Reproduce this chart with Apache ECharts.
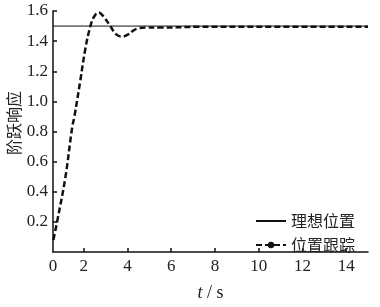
<!DOCTYPE html>
<html><head><meta charset="utf-8">
<script src="https://cdn.jsdelivr.net/npm/echarts@6/dist/echarts.min.js"></script>
<style>html,body{margin:0;padding:0;background:#fff}#c{width:380px;height:307px}</style>
</head><body><div id="c"></div>
<script>
const seriesNames = ['理想位置', '位置跟踪'];
const idealT = [0.6, 15];
const idealY = [1.5, 1.5];
const trackT = [0.62, 0.66, 0.80, 1.16, 1.48, 1.58, 1.85, 2.08, 2.31, 2.49, 2.69, 2.90, 3.22, 3.49, 3.77, 4.04, 4.27, 4.50, 4.82, 5.50, 7.30, 10.0, 15.0];
const trackY = [0.08, 0.11, 0.21, 0.49, 0.83, 0.90, 1.14, 1.35, 1.50, 1.565, 1.59, 1.565, 1.50, 1.445, 1.43, 1.445, 1.47, 1.485, 1.49, 1.49, 1.495, 1.495, 1.495];
const xTickValues = [2, 4, 6, 8, 10, 12, 14];
const xLabelValues = [0.6, 2, 4, 6, 8, 10, 12, 14];
const xLabelTexts = ['0', '2', '4', '6', '8', '10', '12', '14'];
const yAxisTitle = '阶跃响应';

const serif = '"Liberation Serif","Times New Roman",serif';
const cjk = '"Noto Sans CJK SC",sans-serif';
const chart = echarts.init(document.getElementById('c'));
chart.setOption({
  animation: false,
  backgroundColor: '#fff',
  grid: {left: 53, right: 12, top: 11, bottom: 49, containLabel: false},
  legend: {
    orient: 'vertical', right: 20, top: 208, itemWidth: 30, itemHeight: 8, itemGap: 8,
    textStyle: {fontFamily: cjk, fontSize: 16, color: '#222'},
    data: [
      {name: seriesNames[0], itemStyle: {opacity: 0}},
      {name: seriesNames[1]}
    ]
  },
  xAxis: {
    type: 'value', min: 0.6, max: 15,
    name: '{i|t} / s', nameLocation: 'middle', nameGap: 32,
    nameTextStyle: {fontFamily: serif, fontSize: 18, color: '#222',
      rich: {i: {fontFamily: serif, fontStyle: 'italic', fontSize: 18, color: '#222'}}},
    axisLine: {lineStyle: {color: '#111', width: 1.5}},
    axisTick: {inside: true, length: 4, customValues: xTickValues, lineStyle: {color: '#111', width: 1.5}},
    axisLabel: {customValues: xLabelValues, margin: 6, fontFamily: serif, fontSize: 17, color: '#222',
      formatter: v => { const i = xLabelValues.findIndex(x => Math.abs(x - v) < 1e-6); return i >= 0 ? xLabelTexts[i] : ''; }},
    splitLine: {show: false}
  },
  yAxis: {
    type: 'value', min: 0, max: 1.6, interval: 0.2,
    axisLine: {show: true, lineStyle: {color: '#111', width: 1.5}},
    axisTick: {show: true, inside: true, length: 4, lineStyle: {color: '#111', width: 1.5}},
    axisLabel: {showMinLabel: false, margin: 5, fontFamily: serif, fontSize: 17, color: '#222',
      formatter: v => v.toFixed(1)},
    splitLine: {show: false}
  },
  graphic: [{
    type: 'text', x: 6, y: 123, rotation: Math.PI / 2,
    style: {text: yAxisTitle, fontFamily: cjk, fontSize: 16, fill: '#222', align: 'center', verticalAlign: 'top'}
  }],
  series: [{
    name: seriesNames[0], type: 'line', symbol: 'none',
    data: idealT.map((t, i) => [t, idealY[i]]),
    lineStyle: {color: '#111', width: 1}, itemStyle: {color: '#111'}
  }, {
    name: seriesNames[1], type: 'line', symbol: 'circle', symbolSize: 6, showSymbol: false, smooth: 0.4,
    data: trackT.map((t, i) => [t, trackY[i]]),
    lineStyle: {color: '#111', width: 2.5, type: [6, 3]}, itemStyle: {color: '#111'}, z: 3
  }]
});
</script></body></html>
